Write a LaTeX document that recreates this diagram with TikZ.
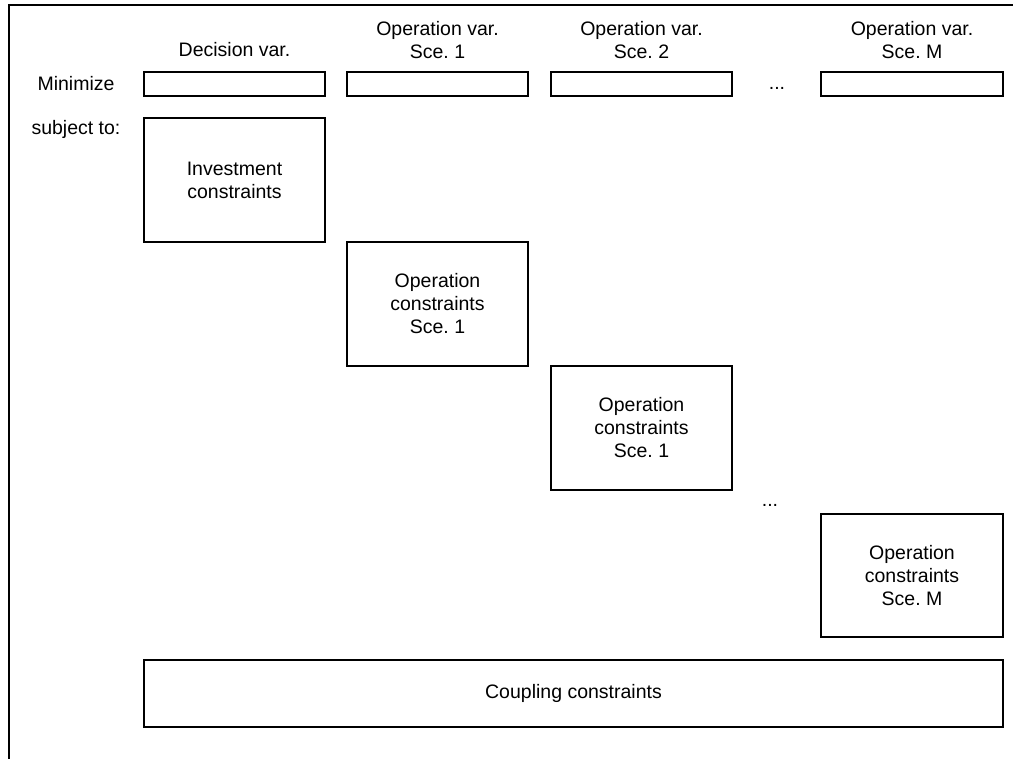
\documentclass[tikz,border=0pt]{standalone}
\usepackage{fontspec}
\setmainfont{Liberation Sans}
\begin{document}
\frenchspacing
\begin{tikzpicture}[x=1pt,y=-1pt,
  txt/.style={font=\fontsize{19.5}{23}\selectfont\frenchspacing, inner sep=0pt, align=center},
  blk/.style={draw, line width=1.3pt, inner sep=0pt, txt},
  frm/.style={line width=1.3pt}]
\useasboundingbox (0,0) rectangle (1013,759);
% frame
\coordinate (tl) at (9,5);
\coordinate (tr) at (1013,5);
\coordinate (bl) at (9,759);
\draw[frm] (tr) -- (tl) -- (bl);
% headers
\node[txt, anchor=base] (hd) at (234.5,57) {Decision var.};
\node[txt, anchor=base] (h1) at (437.5,59) {Operation var.\\Sce. 1};
\node[txt, anchor=base] (h2) at (641.5,59) {Operation var.\\Sce. 2};
\node[txt, anchor=base] (hm) at (912,59) {Operation var.\\Sce. M};
% row labels
\node[txt, anchor=base] (mn) at (76,90.5) {Minimize};
\node[txt, anchor=base] (st) at (76,135) {subject to:};
% objective boxes
\node[blk, minimum width=181pt, minimum height=24pt] (o0) at (234.5,84) {};
\node[blk, minimum width=181pt, minimum height=24pt] (o1) at (437.5,84) {};
\node[blk, minimum width=181pt, minimum height=24pt] (o2) at (641.5,84) {};
\node[txt, anchor=base] (d1) at (777,90) {...};
\node[blk, minimum width=182pt, minimum height=24pt] (om) at (912,84) {};
% constraint blocks
\node[blk, minimum width=181pt, minimum height=124pt] (inv) at (234.5,180) {Investment\\constraints};
\node[blk, minimum width=181pt, minimum height=124pt] (c1) at (437.5,304) {Operation\\constraints\\Sce. 1};
\node[blk, minimum width=181pt, minimum height=124pt] (c2) at (641.5,428) {Operation\\constraints\\Sce. 1};
\node[txt, anchor=base] (d2) at (770,507) {...};
\node[blk, minimum width=182pt, minimum height=123pt] (cm) at (912,575.5) {Operation\\constraints\\Sce. M};
\node[blk, minimum width=859pt, minimum height=67pt] (cp) at (573.5,693.5) {Coupling constraints};
\end{tikzpicture}
\end{document}
